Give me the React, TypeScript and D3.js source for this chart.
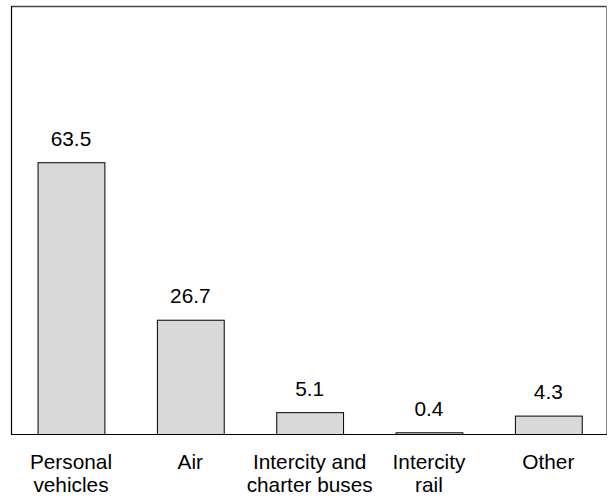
import React from "react";
import * as d3 from "d3";

const categories: string[][] = [
  ["Personal", "vehicles"],
  ["Air"],
  ["Intercity and", "charter buses"],
  ["Intercity", "rail"],
  ["Other"],
];
const values: number[] = [63.5, 26.7, 5.1, 0.4, 4.3];
const valueLabels: string[] = ["63.5", "26.7", "5.1", "0.4", "4.3"];

const W = 608;
const H = 498;
const left = 11.3;
const right = 608;
const top = 6;
const bottom = 434;

export default function App() {
  const keys = categories.map((_, i) => String(i));
  const x = d3.scaleBand<string>().domain(keys).range([left, right]).paddingInner(0.44).paddingOuter(0.22);
  const y = d3.scaleLinear().domain([0, 100]).range([bottom, top]);
  const font = "Liberation Sans, Arial, sans-serif";
  return (
    <svg width={W} height={H} style={{ position: "absolute", left: 0, top: 0 }}>
      <rect x={0} y={0} width={W} height={H} fill="#fff" />
      <line x1={11.5} x2={606.5} y1={6.5} y2={6.5} stroke="#444" strokeWidth={1.5} />
      <line x1={606.5} x2={606.5} y1={6} y2={bottom} stroke="#888" strokeWidth={1} />
      <line x1={11.5} x2={11.5} y1={6} y2={bottom} stroke="#000" strokeWidth={1.2} />
      {values.map((v, i) => {
        const bx = x(String(i))!;
        const bw = x.bandwidth();
        return (
          <g key={i}>
            <rect x={bx + 0.5} y={y(v) + 0.5} width={bw} height={Math.max(0, bottom - y(v))} fill="#d9d9d9" stroke="#000" strokeWidth={1} />
            <text x={bx + bw / 2} y={y(v) - 16.5} textAnchor="middle" fontFamily={font} fontSize={20.8} fill="#000">
              {valueLabels[i]}
            </text>
            {categories[i].map((line, j) => (
              <text key={j} x={bx + bw / 2} y={468.5 + j * 23.7} textAnchor="middle" fontFamily={font} fontSize={20.8} fill="#000">
                {line}
              </text>
            ))}
          </g>
        );
      })}
      <line x1={11} x2={607} y1={bottom + 0.5} y2={bottom + 0.5} stroke="#000" strokeWidth={1.2} />
    </svg>
  );
}
